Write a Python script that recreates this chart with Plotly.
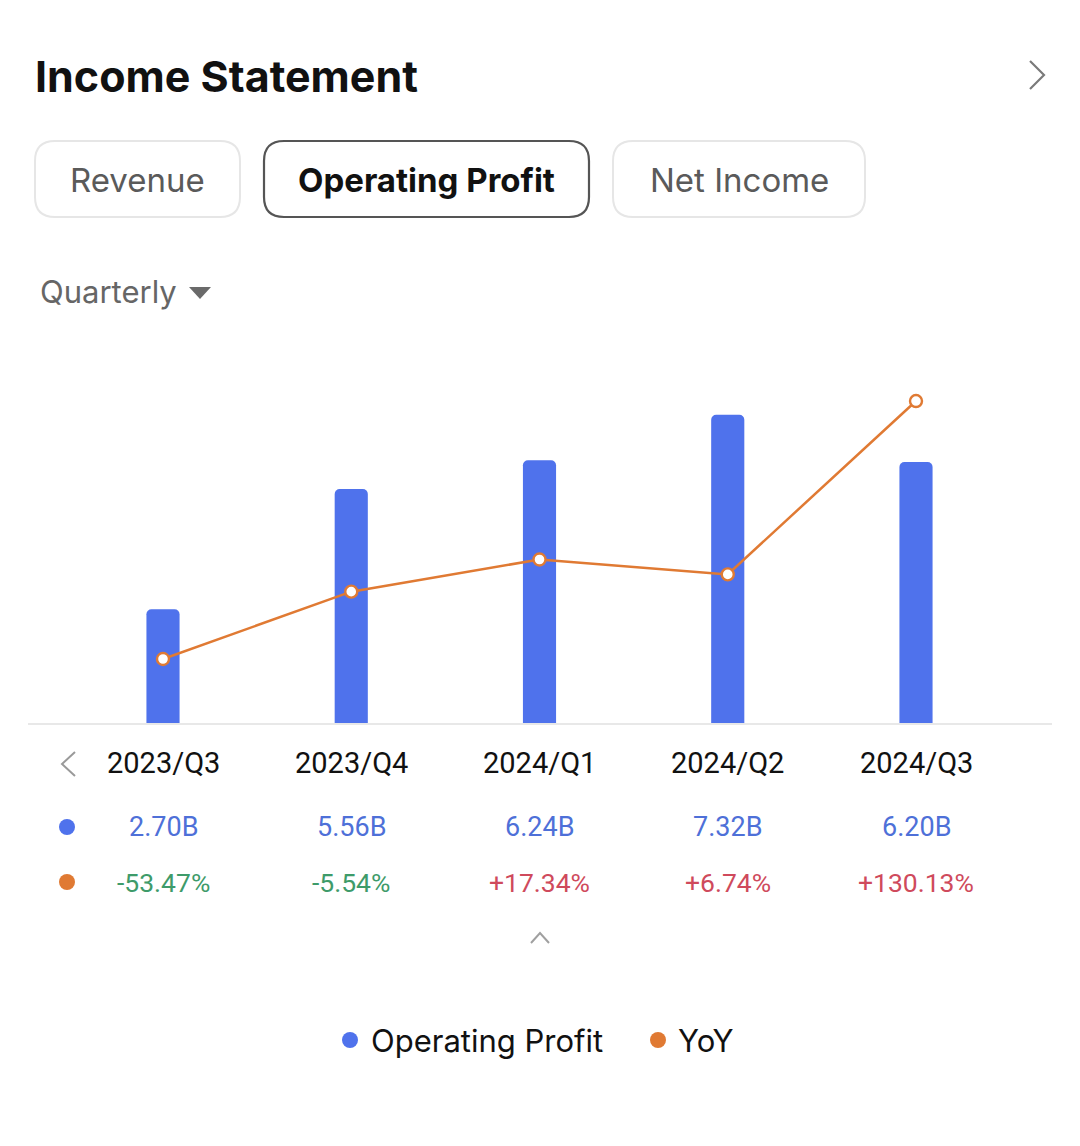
import plotly.graph_objects as go

# ---------------- data ----------------
quarters = ["2023/Q3", "2023/Q4", "2024/Q1", "2024/Q2", "2024/Q3"]
op_profit_b = [2.70, 5.56, 6.24, 7.32, 6.20]          # billions
yoy_pct = [-53.47, -5.54, 17.34, 6.74, 130.13]        # percent
tabs = ["Revenue", "Operating Profit", "Net Income"]
selected_tab = "Operating Profit"
period_label = "Quarterly"
title_text = "Income Statement"

W, H = 1080, 1146
OFF = 8  # page body margin
BLUE = "#4F72EC"
ORANGE = "#E07A33"
GREEN = "#3E9B6A"
RED = "#CF4A5C"


def px(x):
    return (x - OFF) / W


def py(y):
    return 1 - (y - OFF) / H


def rrect(x0, y0, x1, y1, r):
    X = lambda v: f"{px(v):.5f}"
    Y = lambda v: f"{py(v):.5f}"
    return (f"M {X(x0 + r)} {Y(y0)} L {X(x1 - r)} {Y(y0)} "
            f"Q {X(x1)} {Y(y0)} {X(x1)} {Y(y0 + r)} "
            f"L {X(x1)} {Y(y1 - r)} Q {X(x1)} {Y(y1)} {X(x1 - r)} {Y(y1)} "
            f"L {X(x0 + r)} {Y(y1)} Q {X(x0)} {Y(y1)} {X(x0)} {Y(y1 - r)} "
            f"L {X(x0)} {Y(y0 + r)} Q {X(x0)} {Y(y0)} {X(x0 + r)} {Y(y0)} Z")


def poly(points, closed=False):
    s = " ".join(("M" if i == 0 else "L") + f" {px(a):.5f} {py(b):.5f}"
                 for i, (a, b) in enumerate(points))
    return s + (" Z" if closed else "")


xs = list(range(len(quarters)))

fig = go.Figure()
fig.add_trace(go.Bar(
    x=xs, y=op_profit_b, width=0.176, marker=dict(color=BLUE, line=dict(width=0)),
    name="Operating Profit", hoverinfo="skip"))
fig.add_trace(go.Scatter(
    x=xs, y=yoy_pct, yaxis="y2", mode="lines+markers", name="YoY",
    line=dict(color=ORANGE, width=2.5),
    marker=dict(size=12, color="white", line=dict(color=ORANGE, width=2.4)),
    hoverinfo="skip"))

x0p, x1p = 28, 1052
ytop, ybot = 330, 723
step = 188.25
c0 = 163
xr = [(x0p - c0) / step, (x1p - c0) / step]

shapes = []
annotations = []

# title
annotations.append(dict(x=px(33), y=py(76), xref="paper", yref="paper", text=f"<b>{title_text}</b>",
                        showarrow=False, xanchor="left", yanchor="middle",
                        font=dict(family="Inter", size=43, color="#111111")))
# chevron right
shapes.append(dict(type="path", xref="paper", yref="paper",
                   path=poly([(1030, 61), (1044, 75), (1030, 89)]),
                   line=dict(color="#7a7a7a", width=2.2)))

# tabs
tab_boxes = [(35, 141, 240, 217), (264, 141, 589, 217), (613, 141, 865, 217)]
for name, (a, b, c, d) in zip(tabs, tab_boxes):
    sel = name == selected_tab
    shapes.append(dict(type="path", xref="paper", yref="paper", path=rrect(a, b, c, d, 20),
                       line=dict(color="#555555" if sel else "#e6e6e6", width=2.2 if sel else 2),
                       fillcolor="white"))
    annotations.append(dict(x=px((a + c) / 2), y=py(180), xref="paper", yref="paper",
                            text=f"<b>{name}</b>" if sel else name, showarrow=False,
                            xanchor="center", yanchor="middle",
                            font=dict(family="Inter", size=33, color="#111111" if sel else "#5a5a5a")))

# Quarterly dropdown
annotations.append(dict(x=px(38), y=py(292), xref="paper", yref="paper", text=period_label,
                        showarrow=False, xanchor="left", yanchor="middle",
                        font=dict(family="Inter", size=31, color="#666666")))
shapes.append(dict(type="path", xref="paper", yref="paper",
                   path=poly([(189, 287), (211, 287), (200, 299)], closed=True),
                   fillcolor="#6a6a6a", line=dict(width=0)))

# table under chart
shapes.append(dict(type="path", xref="paper", yref="paper",
                   path=poly([(75, 752), (62, 764), (75, 776)]),
                   line=dict(color="#9a9a9a", width=2)))
for i, q in enumerate(quarters):
    annotations.append(dict(x=i, y=py(763), xref="x", yref="paper", text=q, showarrow=False,
                            xanchor="center", yanchor="middle",
                            font=dict(family="Roboto", size=29, color="#111111")))
    annotations.append(dict(x=i, y=py(827), xref="x", yref="paper", text=f"{op_profit_b[i]:.2f}B",
                            showarrow=False, xanchor="center", yanchor="middle",
                            font=dict(family="Roboto", size=27, color="#4E70D8")))
    v = yoy_pct[i]
    annotations.append(dict(x=i, y=py(882), xref="x", yref="paper",
                            text=(f"+{v:.2f}%" if v > 0 else f"{v:.2f}%"),
                            showarrow=False, xanchor="center", yanchor="middle",
                            font=dict(family="Roboto", size=26.5, color=RED if v > 0 else GREEN)))

for yc, col in [(827, BLUE), (882, ORANGE)]:
    shapes.append(dict(type="circle", xref="paper", yref="paper",
                       x0=px(59), x1=px(75), y0=py(yc + 8), y1=py(yc - 8),
                       fillcolor=col, line=dict(width=0)))

# collapse chevron
shapes.append(dict(type="path", xref="paper", yref="paper",
                   path=poly([(531, 943), (540, 933), (549, 943)]),
                   line=dict(color="#a0a0a0", width=2)))

# legend
for cx, col, label, tx in [(350, BLUE, "Operating Profit", 369), (658, ORANGE, "YoY", 676)]:
    shapes.append(dict(type="circle", xref="paper", yref="paper",
                       x0=px(cx - 8), x1=px(cx + 8), y0=py(1040 + 8), y1=py(1040 - 8),
                       fillcolor=col, line=dict(width=0)))
    annotations.append(dict(x=px(tx), y=py(1040), xref="paper", yref="paper", text=label,
                            showarrow=False, xanchor="left", yanchor="middle",
                            font=dict(family="Inter", size=31, color="#111111")))

# axis ranges (pixel-matched)
bar_ppu = 42.1
line_ppu = 1.405
zero_line_px = 659 - 53.47 * line_ppu
y2_range = [(zero_line_px - ybot) / line_ppu, (zero_line_px - ytop) / line_ppu]
y_range = [0, (ybot - ytop) / bar_ppu]

fig.update_layout(
    width=W, height=H,
    margin=dict(l=0, r=0, t=0, b=0),
    paper_bgcolor="white", plot_bgcolor="white",
    showlegend=False,
    barcornerradius=5,
    xaxis=dict(domain=[px(x0p), px(x1p)], range=xr, showgrid=False, zeroline=False,
               showticklabels=False, showline=True, linecolor="#e8e8e8", linewidth=2,
               ticks="", fixedrange=True),
    yaxis=dict(domain=[py(ybot), py(ytop)], range=y_range, showgrid=False, zeroline=False,
               showticklabels=False, showline=False, fixedrange=True),
    yaxis2=dict(overlaying="y", range=y2_range, showgrid=False, zeroline=False,
                showticklabels=False, showline=False, fixedrange=True),
    shapes=shapes, annotations=annotations,
)

fig.write_html("out.html", config={"displayModeBar": False})
